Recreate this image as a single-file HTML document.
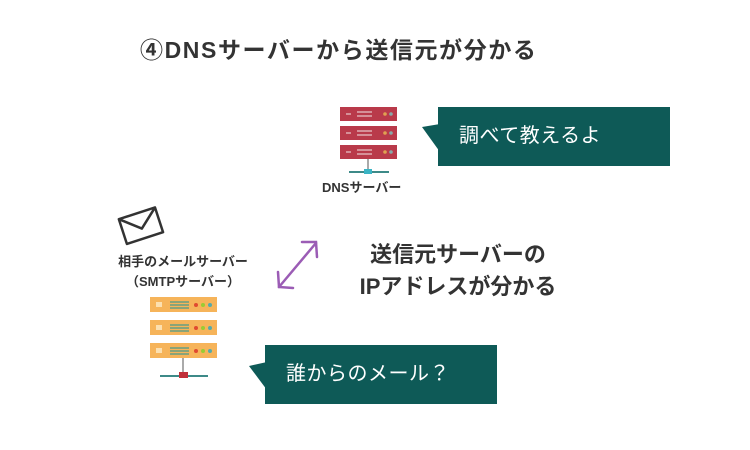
<!DOCTYPE html>
<html><head><meta charset="utf-8"><style>
body{margin:0;width:750px;height:450px;background:#fff;position:relative;overflow:hidden;font-family:"Liberation Sans","Noto Sans CJK JP",sans-serif;color:#333}
.t{position:absolute;white-space:nowrap;font-weight:bold}
.bub{position:absolute;background:#0e5a57;color:#fff;font-size:20px;line-height:59px;padding-left:21px;box-sizing:border-box;letter-spacing:0.5px}
</style></head><body>
<div class="t" style="left:140px;top:31px;font-size:23px;letter-spacing:1.6px">④DNSサーバーから送信元が分かる</div>

<svg width="750" height="450" style="position:absolute;left:0;top:0">
 <polygon points="422,127 440,124 440,152" fill="#0e5a57"/>
 <polygon points="249,366 267,362 267,390" fill="#0e5a57"/>
 <g>
  <rect x="340" y="107" width="57" height="14" fill="#b93a4a"/>
  <rect x="340" y="126" width="57" height="14" fill="#b93a4a"/>
  <rect x="340" y="145" width="57" height="14" fill="#b93a4a"/>
  <g stroke="#e8c9cc" stroke-width="1.2">
   <line x1="346" y1="114" x2="351" y2="114"/><line x1="357" y1="112" x2="372" y2="112"/><line x1="357" y1="116" x2="372" y2="116"/>
   <line x1="346" y1="133" x2="351" y2="133"/><line x1="357" y1="131" x2="372" y2="131"/><line x1="357" y1="135" x2="372" y2="135"/>
   <line x1="346" y1="152" x2="351" y2="152"/><line x1="357" y1="150" x2="372" y2="150"/><line x1="357" y1="154" x2="372" y2="154"/>
  </g>
  <circle cx="385" cy="114" r="1.8" fill="#e0a050"/><circle cx="391" cy="114" r="1.8" fill="#8aa"/>
  <circle cx="385" cy="133" r="1.8" fill="#e0a050"/><circle cx="391" cy="133" r="1.8" fill="#8aa"/>
  <circle cx="385" cy="152" r="1.8" fill="#e0a050"/><circle cx="391" cy="152" r="1.8" fill="#8aa"/>
  <line x1="368" y1="159" x2="368" y2="171" stroke="#555" stroke-width="1"/>
  <line x1="349" y1="172" x2="389" y2="172" stroke="#3d8a88" stroke-width="2"/>
  <rect x="364" y="169" width="8" height="5" fill="#3ab4c4"/>
 </g>
 <g>
  <rect x="150" y="297" width="67" height="15" fill="#f6b45a"/>
  <rect x="150" y="320" width="67" height="15" fill="#f6b45a"/>
  <rect x="150" y="343" width="67" height="15" fill="#f6b45a"/>
  <g stroke="#4a9a8a" stroke-width="1.2">
   <line x1="170" y1="302" x2="189" y2="302"/><line x1="170" y1="305" x2="189" y2="305"/><line x1="170" y1="308" x2="189" y2="308"/>
   <line x1="170" y1="325" x2="189" y2="325"/><line x1="170" y1="328" x2="189" y2="328"/><line x1="170" y1="331" x2="189" y2="331"/>
   <line x1="170" y1="348" x2="189" y2="348"/><line x1="170" y1="351" x2="189" y2="351"/><line x1="170" y1="354" x2="189" y2="354"/>
  </g>
  <g fill="#fce0b0"><rect x="156" y="302" width="6" height="5"/><rect x="156" y="325" width="6" height="5"/><rect x="156" y="348" width="6" height="5"/></g>
  <g><circle cx="196" cy="305" r="2" fill="#e04a30"/><circle cx="203" cy="305" r="2" fill="#9c3"/><circle cx="210" cy="305" r="2" fill="#5aa"/>
  <circle cx="196" cy="328" r="2" fill="#e04a30"/><circle cx="203" cy="328" r="2" fill="#9c3"/><circle cx="210" cy="328" r="2" fill="#5aa"/>
  <circle cx="196" cy="351" r="2" fill="#e04a30"/><circle cx="203" cy="351" r="2" fill="#9c3"/><circle cx="210" cy="351" r="2" fill="#5aa"/></g>
  <line x1="183" y1="358" x2="183" y2="373" stroke="#555" stroke-width="1"/>
  <line x1="160" y1="376" x2="208" y2="376" stroke="#3d8a88" stroke-width="2"/>
  <rect x="179" y="372" width="9" height="6" fill="#c0303a"/>
 </g>
 <g transform="rotate(-18 140 226)" fill="#fff" stroke="#333" stroke-width="2.5" stroke-linejoin="round">
  <rect x="122" y="213" width="38" height="26"/>
  <polyline points="122,213 141,229 160,213" fill="none"/>
 </g>
 <g stroke="#9b5cb5" stroke-width="2.5" fill="none" stroke-linecap="round">
  <line x1="279" y1="287" x2="316" y2="243"/>
  <polyline points="302,242 316,242 317,257"/>
  <polyline points="278,272 279,287 293,288"/>
 </g>
</svg>

<div class="bub" style="left:438px;top:107px;width:232px;height:59px">調べて教えるよ</div>
<div class="bub" style="left:265px;top:345px;width:232px;height:59px">誰からのメール？</div>

<div class="t" style="left:322px;top:177px;font-size:13px;">DNSサーバー</div>
<div class="t" style="left:108px;top:252px;font-size:13px;width:150px;text-align:center;line-height:20px">相手のメールサーバー<br>（SMTPサーバー）</div>
<div class="t" style="left:346px;top:239px;font-size:22px;width:224px;text-align:center;line-height:32px">送信元サーバーの<br>IPアドレスが分かる</div>
</body></html>
